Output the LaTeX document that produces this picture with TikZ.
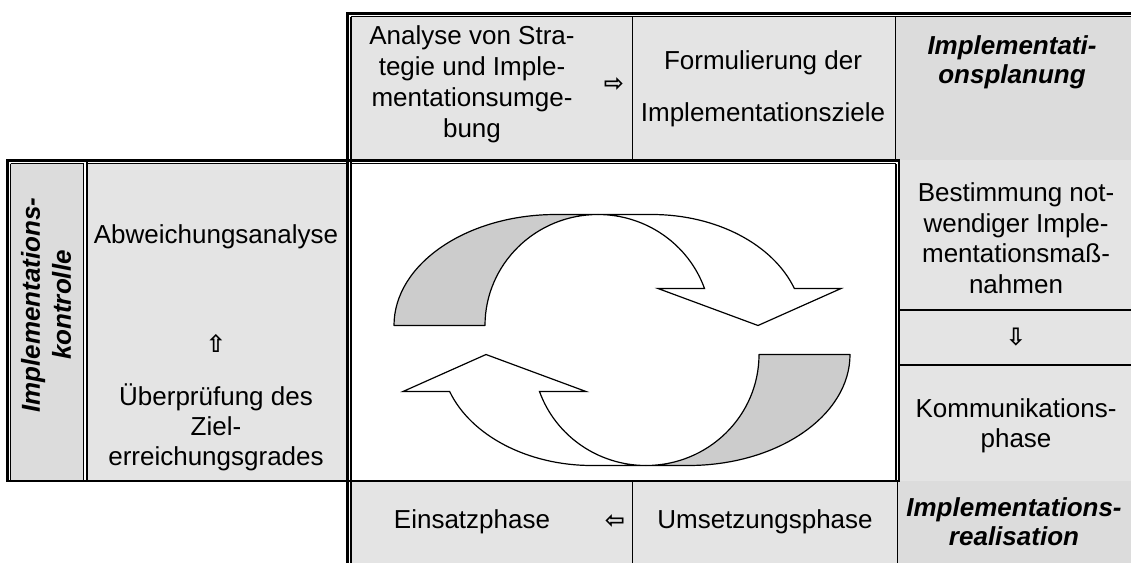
\documentclass[tikz,border=0pt]{standalone}
\usepackage{fontspec}
\setmainfont{Liberation Sans}
\newfontfamily\arrowfont{DejaVu Sans}
\definecolor{cellgray}{HTML}{E4E4E4}
\definecolor{headgray}{HTML}{DCDCDC}
\definecolor{backgray}{HTML}{CCCCCC}
\newcommand\bodytext{\fontsize{26}{30}\selectfont}
\newcommand\headtext{\fontsize{26}{29}\selectfont\bfseries\itshape}
\newcommand\arrowtext{\fontsize{24}{24}\selectfont\arrowfont\bfseries}
\begin{document}
\begin{tikzpicture}[x=1pt,y=-1pt,
  thick rule/.style={line width=2.2pt},
  thin rule/.style={line width=1.1pt},
  hair rule/.style={line width=0.8pt},
  label/.style={inner sep=0pt, align=center, font=\bodytext},
  heading/.style={inner sep=0pt, align=center, font=\headtext},
  flow/.style={inner sep=0pt, font=\arrowtext},
  ribbon back/.style={fill=backgray, draw=black, line width=1.2pt, line join=round},
  ribbon front/.style={fill=white, draw=black, line width=1.2pt, line join=miter}]

\useasboundingbox (0,0) rectangle (1131,563);
\fill[white] (0,0) rectangle (1131,563);

% cell backgrounds
\fill[cellgray] (351,16) rectangle (895,160);
\fill[headgray] (895,16) rectangle (1131,160);
\fill[headgray] (10,163) rectangle (84,481);
\fill[cellgray] (86,163) rectangle (347,481);
\fill[cellgray] (899,160) rectangle (1131,481);
\fill[cellgray] (351,481) rectangle (897,563);
\fill[headgray] (897,481) rectangle (1131,563);

% outer double rules
\draw[thick rule] (347.5,13.5) -- (1131,13.5);
\draw[thin rule] (351,16.8) -- (1131,16.8);
\draw[thick rule] (347.5,12.4) -- (347.5,563);
\draw[thin rule] (351,16.8) -- (351,563);
\draw[thick rule] (6.4,160.5) -- (899,160.5);
\draw[thin rule] (10.5,163.8) -- (83.5,163.8);
\draw[thin rule] (86.5,163.8) -- (347,163.8);
\draw[thin rule] (351,163.8) -- (896,163.8);
\draw[thick rule] (7.5,159.4) -- (7.5,481);
\draw[thin rule] (10.5,163.8) -- (10.5,481);
\draw[hair rule] (83.5,163.8) -- (83.5,481);
\draw[thick rule] (86.7,160.5) -- (86.7,481);
\draw[thin rule] (896,163.8) -- (896,481);
\draw[thick rule] (899.2,159.4) -- (899.2,482.1);
\draw[thick rule] (6.4,481) -- (900.3,481);

% inner dividers
\draw[hair rule] (632,16.8) -- (632,160);
\draw[hair rule] (895,16.8) -- (895,160);
\draw[thick rule] (899,310) -- (1131,310);
\draw[thick rule] (899,365) -- (1131,365);
\draw[hair rule] (632,481) -- (632,563);
\draw[hair rule] (897,481) -- (897,563);

% circular ribbon arrows
\begin{scope}[shift={(622,340)}, yscale=-1]
  \foreach \turn in {0,180} {
    \begin{scope}[rotate=\turn]
      \draw[ribbon back] (-228,14.5)
        arc[start angle=180, end angle=90, x radius=162, y radius=111]
        -- (-24,125.5)
        arc[start angle=90, end angle=180, x radius=113, y radius=111]
        -- cycle;
      \draw[ribbon front] (-24,125.5) -- (30,125.5)
        arc[start angle=90, end angle=19.47, x radius=151, y radius=111]
        -- (219,51.5) -- (136,14.5) -- (36,51.5) -- (82.5,51.5)
        arc[start angle=19.47, end angle=90, x radius=113, y radius=111]
        -- cycle;
    \end{scope}
  }
\end{scope}

% texts
\node[label, font=\fontsize{26}{31}\selectfont] (ana) at (472,84) {Analyse von Stra-\\tegie und Imple-\\mentationsumge-\\bung};
\node[flow] (toform) at (614,85) {⇨};
\node[label, font=\fontsize{26}{52}\selectfont] (form) at (763,89) {Formulierung der\\Implementationsziele};
\node[heading] (plan) at (1012,62) {Implementati-\\onsplanung};

\node[heading, rotate=90, font=\fontsize{26}{31}\selectfont\bfseries\itshape] (ctrl) at (46,305) {Implementations-\\kontrolle};
\node[label] (abw) at (216,237) {Abweichungsanalyse};
\node[flow] (toabw) at (216,343) {⇧};
\node[label, font=\fontsize{26}{30}\selectfont] (ueb) at (216,427) {Überprüfung des\\Ziel-\\erreichungsgrades};

\node[label, font=\fontsize{26}{30.5}\selectfont] (best) at (1016,238) {Bestimmung not-\\wendiger Imple-\\mentationsmaß-\\nahmen};
\node[flow] (tokomm) at (1016,337) {⇩};
\node[label] (komm) at (1016,426) {Kommunikations-\\phase};

\node[label] (eins) at (472,522) {Einsatzphase};
\node[flow] (toeins) at (615,522) {⇦};
\node[label] (ums) at (765,522) {Umsetzungsphase};
\node[heading] (real) at (1014,522) {Implementations-\\realisation};
\end{tikzpicture}
\end{document}
